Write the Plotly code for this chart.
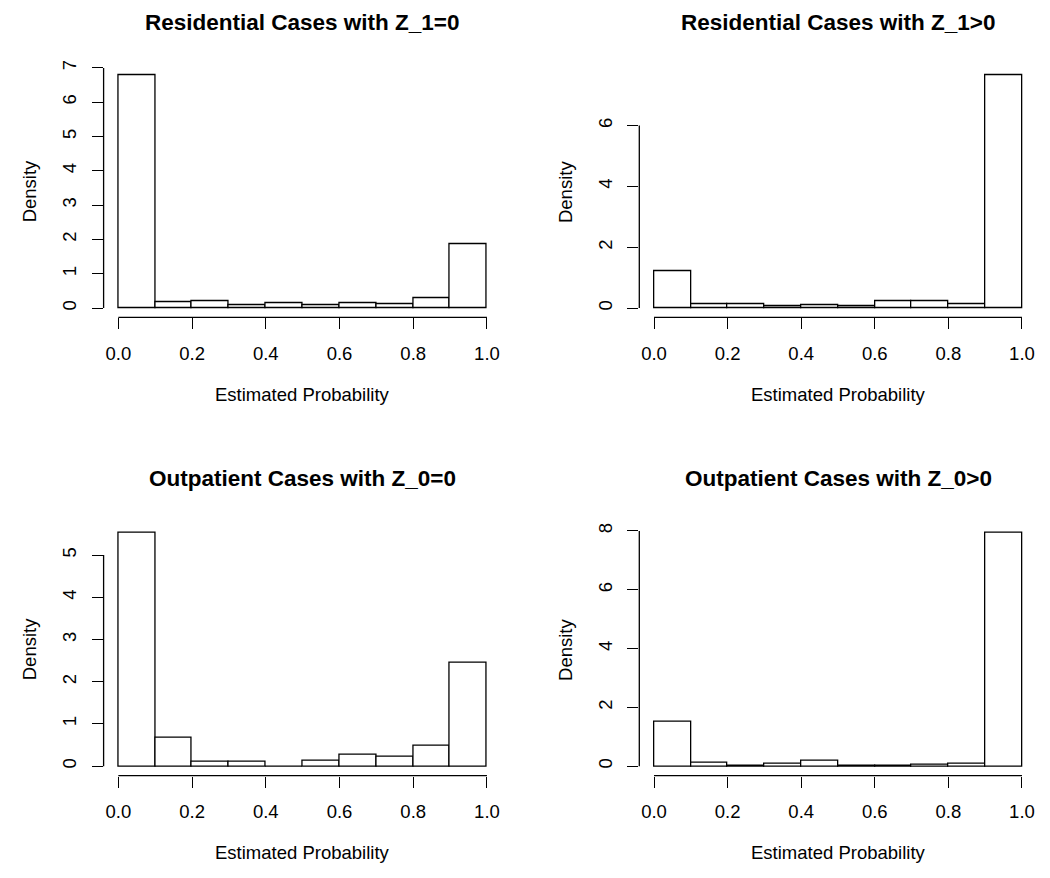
import plotly.graph_objects as go

# ---- data (densities) ----
bin_edges = [0.0, 0.1, 0.2, 0.3, 0.4, 0.5, 0.6, 0.7, 0.8, 0.9, 1.0]
titles = ["Residential Cases with Z_1=0", "Residential Cases with Z_1>0",
          "Outpatient Cases with Z_0=0", "Outpatient Cases with Z_0>0"]
res_z1_zero = [6.78, 0.17, 0.21, 0.10, 0.15, 0.10, 0.15, 0.12, 0.28, 1.85]
res_z1_pos = [1.21, 0.14, 0.12, 0.06, 0.10, 0.06, 0.22, 0.22, 0.14, 7.65]
out_z0_zero = [5.52, 0.67, 0.11, 0.11, 0.0, 0.14, 0.28, 0.235, 0.48, 2.46]
out_z0_pos = [1.50, 0.125, 0.02, 0.07, 0.20, 0.01, 0.005, 0.04, 0.07, 7.93]
y_ticks = [[0, 1, 2, 3, 4, 5, 6, 7], [0, 2, 4, 6], [0, 1, 2, 3, 4, 5], [0, 2, 4, 6, 8]]
x_ticks = [0.0, 0.2, 0.4, 0.6, 0.8, 1.0]
x_label = "Estimated Probability"
y_label = "Density"

series = [res_z1_zero, res_z1_pos, out_z0_zero, out_z0_pos]

OFF = 8  # default body margin of the page
W, H = 1050 - 2 * OFF, 878 - 2 * OFF
# panel pixel boxes in window coords (left, right, top, bottom)
boxes = [(103.6, 501.7, 60.5, 313.5), (639.3, 1036.7, 60.5, 313.5),
         (103.6, 501.7, 521.3, 774.9), (639.3, 1036.7, 521.3, 774.9)]
title_gap = [43.5, 43.5, 46.0, 46.0]


def px(v):
    return (v - OFF) / W


def py(v):
    return 1 - (v - OFF) / H


FONT = "Liberation Sans, Arial, Helvetica, sans-serif"
LSIZE = 18.5
fig = go.Figure()
centers = [(bin_edges[i] + bin_edges[i + 1]) / 2 for i in range(len(bin_edges) - 1)]
widths = [bin_edges[i + 1] - bin_edges[i] for i in range(len(bin_edges) - 1)]

annotations = []
shapes = []
for k, vals in enumerate(series):
    n = k + 1
    xa = "x" if n == 1 else f"x{n}"
    ya = "y" if n == 1 else f"y{n}"
    fig.add_trace(go.Bar(x=centers, y=vals, width=widths, xaxis=xa, yaxis=ya,
                         marker=dict(color="white", line=dict(color="black", width=1.3)),
                         showlegend=False))
    l, r, t, b = boxes[k]
    M = max(vals)
    common = dict(showgrid=False, zeroline=False, showline=False, ticks="outside",
                  ticklen=11, tickwidth=1.3, tickcolor="black",
                  tickfont=dict(family=FONT, size=LSIZE, color="black"))
    fig.update_layout(**{
        ("xaxis" if n == 1 else f"xaxis{n}"): dict(
            domain=[px(l), px(r)], anchor=ya, range=[-0.04, 1.04],
            tickvals=x_ticks, tickformat=".1f", ticklabelstandoff=8, **common),
        ("yaxis" if n == 1 else f"yaxis{n}"): dict(
            domain=[py(b), py(t)], anchor=xa, range=[-0.04 * M, 1.04 * M],
            tickvals=y_ticks[k], tickangle=-90, ticklabelstandoff=8, **common),
    })
    # R-style axis lines spanning first to last tick
    shapes.append(dict(type="line", xref=xa, yref=f"{ya} domain", x0=x_ticks[0], x1=x_ticks[-1],
                       y0=0, y1=0, line=dict(color="black", width=1.3)))
    shapes.append(dict(type="line", xref=f"{xa} domain", yref=ya, x0=0, x1=0,
                       y0=y_ticks[k][0], y1=y_ticks[k][-1], line=dict(color="black", width=1.3)))
    cx = px((l + r) / 2)
    annotations.append(dict(text=f"<b>{titles[k]}</b>", x=cx, y=py(t - title_gap[k]),
                            xref="paper", yref="paper", showarrow=False,
                            xanchor="center", yanchor="middle",
                            font=dict(family=FONT, size=22.5, color="black")))
    annotations.append(dict(text=x_label, x=cx, y=py(b + 77.5), xref="paper", yref="paper",
                            showarrow=False, xanchor="center", yanchor="middle",
                            font=dict(family=FONT, size=LSIZE, color="black")))
    annotations.append(dict(text=y_label, x=px(l - 74), y=py((t + b) / 2),
                            xref="paper", yref="paper", textangle=-90, showarrow=False,
                            xanchor="center", yanchor="middle",
                            font=dict(family=FONT, size=LSIZE, color="black")))

fig.update_layout(width=W, height=H, margin=dict(l=0, r=0, t=0, b=0),
                  paper_bgcolor="white", plot_bgcolor="white", bargap=0,
                  annotations=annotations, shapes=shapes)
fig.write_html("out.html")
